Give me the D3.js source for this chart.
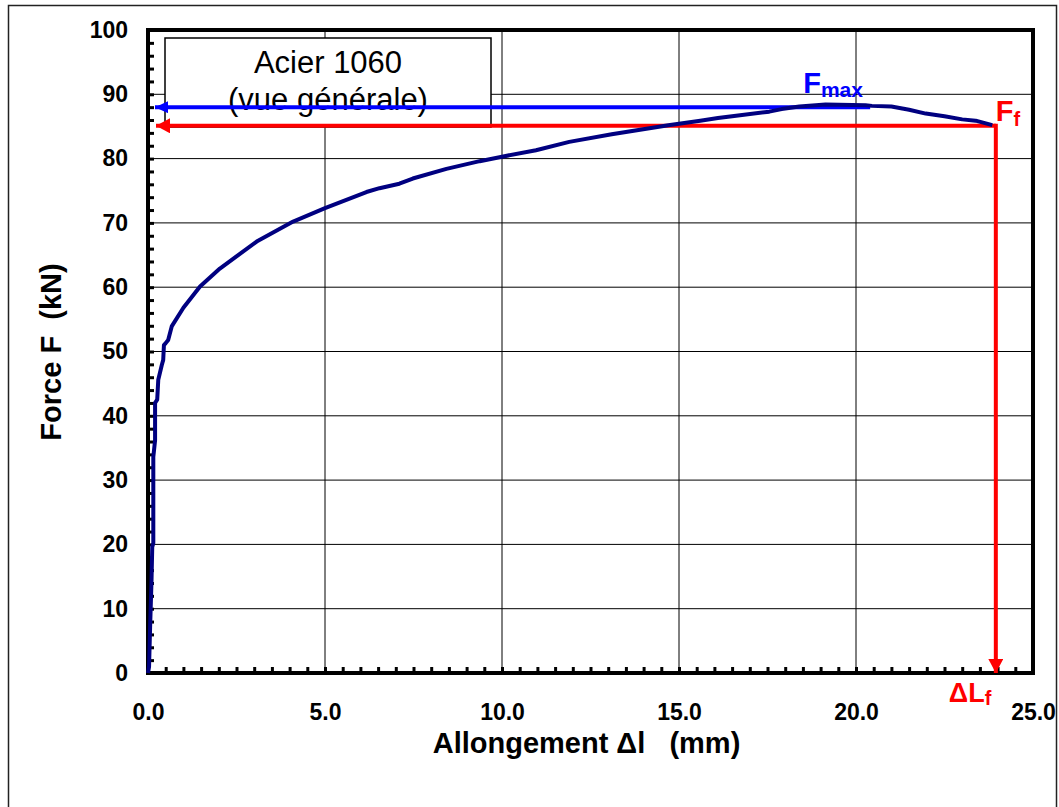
<!DOCTYPE html>
<html>
<head>
<meta charset="utf-8">
<script src="https://cdn.jsdelivr.net/npm/d3@7"></script>
<style>
body { margin: 0; background: #fff; }
text { font-family: "Liberation Sans", Arial, sans-serif; }
</style>
</head>
<body>
<div id="chart"></div>
<script>
// elongation (mm) and force (kN)
var elongation = [0, 0.03, 0.06, 0.1, 0.12, 0.15, 0.15, 0.2, 0.2, 0.26, 0.29, 0.39, 0.43, 0.45, 0.5, 0.57,
  0.67, 1.0, 1.47, 2.03, 3.07, 4.1, 5.0, 6.17, 6.54, 7.1, 7.48, 8.43, 9.37, 10.0, 10.96, 11.9, 13.1,
  14.7, 15.6, 16.1, 16.5, 17.55, 17.9, 18.4, 19.14, 20.27, 20.45, 21.0, 21.5, 21.97, 22.5, 23.0, 23.38, 23.85];
var force = [0, 1.0, 7.2, 14.5, 19.6, 20.2, 33.6, 36.2, 42.0, 42.5, 45.6, 47.9, 48.7, 51.0, 51.3, 51.8,
  53.9, 56.8, 60.1, 62.9, 67.1, 70.2, 72.3, 74.8, 75.4, 76.1, 76.9, 78.4, 79.6, 80.3, 81.3, 82.6, 83.8,
  85.2, 85.9, 86.3, 86.6, 87.3, 87.7, 88.1, 88.4, 88.3, 88.2, 88.1, 87.6, 87.0, 86.6, 86.1, 85.9, 85.2];

var xMajorTicks = [0, 5, 10, 15, 20, 25];
var yMajorTicks = [0, 10, 20, 30, 40, 50, 60, 70, 80, 90, 100];

var fMax = 88.0;        // blue arrow level
var fMaxEnd = 20.4;     // where the blue arrow starts
var fRupture = 85.1;    // F_f
var dlRupture = 23.95;  // delta L_f

var svgWidth = 1059;
var svgHeight = 807;

var margin = {
  top: 30,
  right: 26,
  bottom: 134,
  left: 148
};

var width = svgWidth - margin.left - margin.right;
var height = svgHeight - margin.top - margin.bottom;

var svg = d3.select("#chart")
  .append("svg")
  .attr("width", svgWidth)
  .attr("height", svgHeight);

// outer chart frame
svg.append("rect")
  .attr("x", 8.5)
  .attr("y", 5.5)
  .attr("width", 1048)
  .attr("height", 900)
  .attr("fill", "none")
  .attr("stroke", "#222")
  .attr("stroke-width", 1.5);

var defs = svg.append("defs");
function arrowMarker(id, color, len, half) {
  defs.append("marker")
    .attr("id", id)
    .attr("markerUnits", "userSpaceOnUse")
    .attr("viewBox", `0 ${-half} ${len} ${half * 2}`)
    .attr("refX", len)
    .attr("refY", 0)
    .attr("markerWidth", len)
    .attr("markerHeight", half * 2)
    .attr("orient", "auto")
    .append("path")
    .attr("d", `M0,${-half}L${len},0L0,${half}Z`)
    .attr("fill", color);
}
arrowMarker("arrowBlue", "#0000ff", 13, 6);
arrowMarker("arrowRed", "#ff0000", 14, 7.5);

var chartGroup = svg.append("g")
  .attr("transform", `translate(${margin.left}, ${margin.top})`);

var xLinearScale = d3.scaleLinear()
  .domain([0, 25])
  .range([0, width]);

var yLinearScale = d3.scaleLinear()
  .domain([0, 100])
  .range([height, 0]);

// grid
chartGroup.append("g")
  .selectAll("line.hgrid")
  .data(yMajorTicks.slice(1, -1))
  .enter()
  .append("line")
  .attr("x1", 0)
  .attr("x2", width)
  .attr("y1", d => yLinearScale(d))
  .attr("y2", d => yLinearScale(d))
  .attr("stroke", "#000")
  .attr("stroke-width", 1);

chartGroup.append("g")
  .selectAll("line.vgrid")
  .data(xMajorTicks.slice(1, -1))
  .enter()
  .append("line")
  .attr("x1", d => xLinearScale(d))
  .attr("x2", d => xLinearScale(d))
  .attr("y1", 0)
  .attr("y2", height)
  .attr("stroke", "#000")
  .attr("stroke-width", 1);

// title box
var box = chartGroup.append("g")
  .attr("transform", "translate(17, 8)");
box.append("rect")
  .attr("width", 326)
  .attr("height", 89)
  .attr("fill", "#fff")
  .attr("stroke", "#000")
  .attr("stroke-width", 1.5);
box.append("text")
  .attr("x", 163)
  .attr("y", 35)
  .attr("text-anchor", "middle")
  .style("font-size", "31px")
  .text("Acier 1060");
box.append("text")
  .attr("x", 163)
  .attr("y", 72)
  .attr("text-anchor", "middle")
  .style("font-size", "31px")
  .text("(vue générale)");

// axes
var bottomAxis = d3.axisBottom(xLinearScale)
  .tickValues(d3.range(0, 25.01, 0.5))
  .tickSize(-6)
  .tickPadding(31)
  .tickFormat(d => xMajorTicks.indexOf(d) >= 0 ? d.toFixed(1) : "");

var leftAxis = d3.axisLeft(yLinearScale)
  .tickValues(d3.range(0, 101, 2))
  .tickSize(-6)
  .tickPadding(20)
  .tickFormat(d => yMajorTicks.indexOf(d) >= 0 ? d : "");

var xAxisG = chartGroup.append("g")
  .attr("transform", `translate(0, ${height})`)
  .call(bottomAxis);

var yAxisG = chartGroup.append("g")
  .call(leftAxis);

[xAxisG, yAxisG].forEach(function(g) {
  g.select(".domain").remove();
  g.selectAll(".tick line")
    .attr("stroke", "#000")
    .attr("stroke-width", 3);
  g.selectAll(".tick text")
    .attr("fill", "#000")
    .style("font-size", "23px")
    .style("font-weight", "bold")
    .style("font-family", "'Liberation Sans', Arial, sans-serif");
});

// plot frame
chartGroup.append("rect")
  .attr("width", width)
  .attr("height", height)
  .attr("fill", "none")
  .attr("stroke", "#000")
  .attr("stroke-width", 4);

// F max arrow
chartGroup.append("line")
  .attr("x1", xLinearScale(fMaxEnd))
  .attr("x2", xLinearScale(0) + 7)
  .attr("y1", yLinearScale(fMax))
  .attr("y2", yLinearScale(fMax))
  .attr("stroke", "#0000ff")
  .attr("stroke-width", 4)
  .attr("marker-end", "url(#arrowBlue)");

// F f arrow
chartGroup.append("line")
  .attr("x1", xLinearScale(dlRupture))
  .attr("x2", xLinearScale(0) + 8)
  .attr("y1", yLinearScale(fRupture))
  .attr("y2", yLinearScale(fRupture))
  .attr("stroke", "#ff0000")
  .attr("stroke-width", 4)
  .attr("marker-end", "url(#arrowRed)");

// delta L f arrow
chartGroup.append("line")
  .attr("x1", xLinearScale(dlRupture))
  .attr("x2", xLinearScale(dlRupture))
  .attr("y1", yLinearScale(fRupture) - 2)
  .attr("y2", yLinearScale(0))
  .attr("stroke", "#ff0000")
  .attr("stroke-width", 4)
  .attr("marker-end", "url(#arrowRed)");

// the curve
var line = d3.line()
  .x((d, i) => xLinearScale(elongation[i]))
  .y(d => yLinearScale(d));

chartGroup.append("path")
  .datum(force)
  .attr("d", line)
  .attr("fill", "none")
  .attr("stroke", "#000080")
  .attr("stroke-width", 4)
  .attr("stroke-linejoin", "round");

// annotations
var fmaxLabel = chartGroup.append("text")
  .attr("x", xLinearScale(fMaxEnd) - 67)
  .attr("y", yLinearScale(fMax) - 14)
  .attr("fill", "#0000ff")
  .style("font-weight", "bold");
fmaxLabel.append("tspan").style("font-size", "29px").text("F");
fmaxLabel.append("tspan").style("font-size", "21px").attr("dy", 4).text("max");

var ffLabel = chartGroup.append("text")
  .attr("x", xLinearScale(dlRupture))
  .attr("y", yLinearScale(fRupture) - 5)
  .attr("fill", "#ff0000")
  .style("font-weight", "bold");
ffLabel.append("tspan").style("font-size", "29px").text("F");
ffLabel.append("tspan").style("font-size", "20px").attr("dy", 5).text("f");

var dlLabel = chartGroup.append("text")
  .attr("x", xLinearScale(dlRupture) - 47)
  .attr("y", height + 29)
  .attr("fill", "#ff0000")
  .style("font-weight", "bold");
dlLabel.append("tspan").style("font-size", "27px").text("\u0394L");
dlLabel.append("tspan").style("font-size", "20px").attr("dy", 3).text("f");

// axis titles
chartGroup.append("text")
  .attr("transform", `translate(${width / 2 - 4}, ${height + 80})`)
  .attr("text-anchor", "middle")
  .style("font-size", "29px")
  .style("font-weight", "bold")
  .style("white-space", "pre")
  .text("Allongement \u0394l   (mm)");

chartGroup.append("text")
  .attr("transform", `translate(${61 - margin.left}, ${352 - margin.top}) rotate(-90)`)
  .attr("text-anchor", "middle")
  .style("font-size", "29px")
  .style("font-weight", "bold")
  .style("white-space", "pre")
  .text("Force F  (kN)");
</script>
</body>
</html>
